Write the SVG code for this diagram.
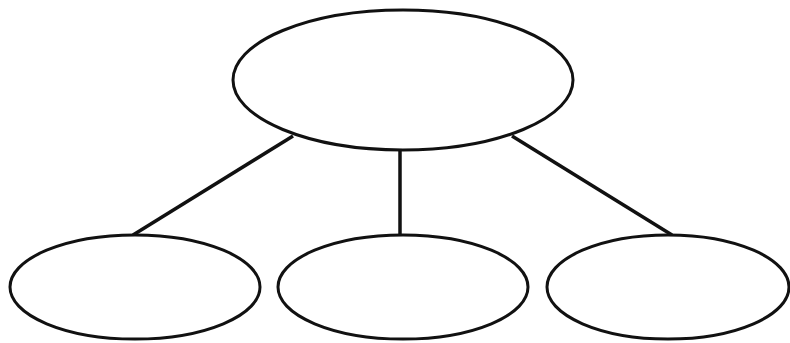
<svg xmlns="http://www.w3.org/2000/svg" width="790" height="343" viewBox="0 0 790 343">
<style>
.node{fill:#fff;stroke:#111;stroke-width:3}
.edge{stroke:#111;stroke-width:3.5;fill:none}
</style>
<rect width="790" height="343" fill="#fff"/>
<g id="connectors">
<line class="edge" x1="293" y1="136" x2="133" y2="235"/>
<line class="edge" x1="400" y1="150" x2="400" y2="235"/>
<line class="edge" x1="512" y1="136" x2="672" y2="235"/>
</g>
<g id="top"><ellipse class="node" cx="403" cy="80" rx="170" ry="70"/></g>
<g id="left"><ellipse class="node" cx="135" cy="287" rx="125" ry="52"/></g>
<g id="middle"><ellipse class="node" cx="403" cy="287" rx="125" ry="52"/></g>
<g id="right"><ellipse class="node" cx="668" cy="287" rx="121" ry="52"/></g>
</svg>
